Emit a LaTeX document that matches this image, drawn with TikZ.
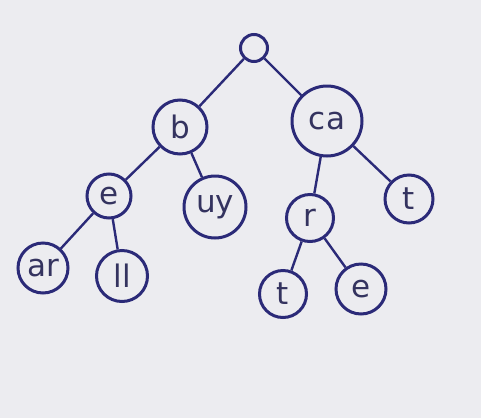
\documentclass[tikz,border=0pt]{standalone}
\usepackage{fontspec}
\setmainfont{DejaVu Sans}
\definecolor{ink}{HTML}{2B2A78}
\definecolor{txt}{HTML}{34335F}
\definecolor{paper}{HTML}{ECECF0}
\begin{document}
\begin{tikzpicture}[x=1pt,y=-1pt,
  tn/.style={draw=ink,line width=3pt,circle,inner sep=0pt,text=txt,font=\fontsize{31}{31}\selectfont},
  edge/.style={draw=ink,line width=2.4pt}]
\fill[paper] (0,0) rectangle (481,418);
\useasboundingbox (0,0) rectangle (481,418);
\node[tn,minimum size=27pt] (root) at (254,48) {};
\node[tn,minimum size=54pt] (b) at (180,127) {b};
\node[tn,minimum size=70pt] (ca) at (327,121) {ca};
\node[tn,minimum size=44pt] (e) at (109,196) {e};
\node[tn,minimum size=62pt] (uy) at (215,207) {uy};
\node[tn,minimum size=47pt] (r) at (310,218) {r};
\node[tn,minimum size=48pt] (t1) at (409,199) {t};
\node[tn,minimum size=50pt] (ar) at (43,268) {ar};
\node[tn,minimum size=51pt] (ll) at (122,276) {ll};
\node[tn,minimum size=47pt] (t2) at (283,294) {t};
\node[tn,minimum size=50pt] (e2) at (361,289) {e};
\draw[edge] (root) -- (b);
\draw[edge] (root) -- (ca);
\draw[edge] (b) -- (e);
\draw[edge] (b) -- (uy);
\draw[edge] (e) -- (ar);
\draw[edge] (e) -- (ll);
\draw[edge] (ca) -- (r);
\draw[edge] (ca) -- (t1);
\draw[edge] (r) -- (t2);
\draw[edge] (r) -- (e2);
\end{tikzpicture}
\end{document}
